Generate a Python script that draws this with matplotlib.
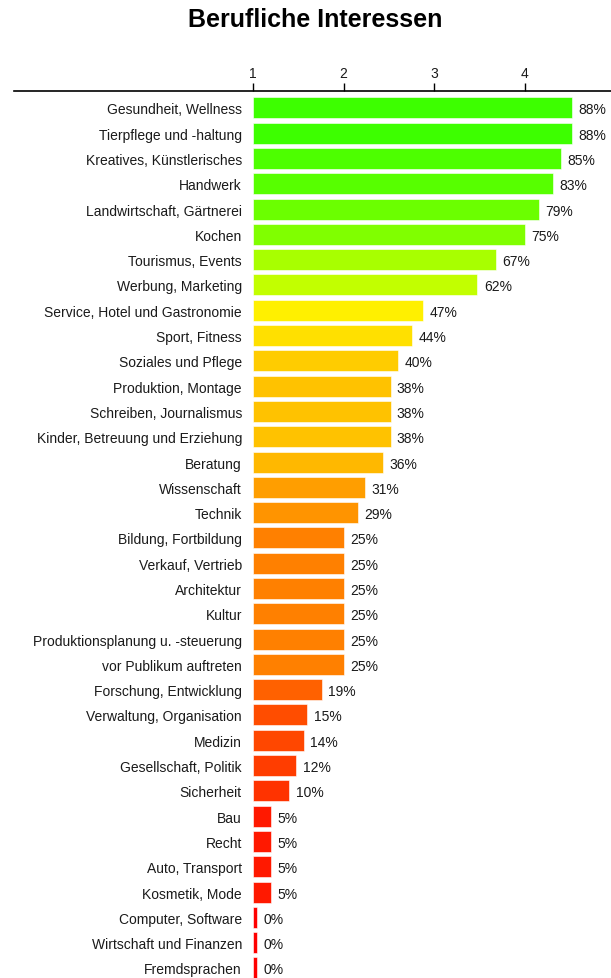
import matplotlib.pyplot as plt
import matplotlib.colors as mcolors
from matplotlib.lines import Line2D
import numpy as np

plt.rcParams['font.family'] = ['Liberation Sans', 'DejaVu Sans']

categories = [
    'Gesundheit, Wellness', 'Tierpflege und -haltung', 'Kreatives, Künstlerisches',
    'Handwerk', 'Landwirtschaft, Gärtnerei', 'Kochen', 'Tourismus, Events',
    'Werbung, Marketing', 'Service, Hotel und Gastronomie', 'Sport, Fitness',
    'Soziales und Pflege', 'Produktion, Montage', 'Schreiben, Journalismus',
    'Kinder, Betreuung und Erziehung', 'Beratung', 'Wissenschaft', 'Technik',
    'Bildung, Fortbildung', 'Verkauf, Vertrieb', 'Architektur', 'Kultur',
    'Produktionsplanung u. -steuerung', 'vor Publikum auftreten',
    'Forschung, Entwicklung', 'Verwaltung, Organisation', 'Medizin',
    'Gesellschaft, Politik', 'Sicherheit', 'Bau', 'Recht', 'Auto, Transport',
    'Kosmetik, Mode', 'Computer, Software', 'Wirtschaft und Finanzen',
    'Fremdsprachen',
]
percent = [88, 88, 85, 83, 79, 75, 67, 62, 47, 44, 40, 38, 38, 38, 36, 31, 29,
           25, 25, 25, 25, 25, 25, 19, 15, 14, 12, 10, 5, 5, 5, 5, 0, 0, 0]
x_ticks = [1, 2, 3, 4]

W, H = 611, 979
fig = plt.figure(figsize=(W / 100, H / 100), dpi=100)

# axis placement in pixels
x0_px, unit_px = 253, 90.5
top_px, bot_px = 92, 979
ax = fig.add_axes([x0_px / W, 1 - bot_px / H, 1 - x0_px / W, (bot_px - top_px) / H])

p = np.array(percent) / 100.0
scores = 1 + 4 * p
widths = np.maximum(scores - 1, 0.045)
# colour runs red -> yellow -> green with the share
colors = [mcolors.hsv_to_rgb((v * 120 / 360, 1, 1)) for v in p]
ypos = np.arange(len(categories))

ax.barh(ypos, widths, left=1, height=0.83, color=colors,
        edgecolor='white', linewidth=0.4)
for y, w, v in zip(ypos, widths, percent):
    ax.text(1 + w + 0.07, y, f'{v}%', va='center_baseline', ha='left',
            fontsize=10, color='#1a1a1a')

ax.set_xlim(1, 1 + (W - x0_px) / unit_px)
ax.set_ylim(len(categories) - 0.6, -0.67)

ax.set_yticks(ypos)
ax.set_yticklabels(categories, fontsize=10, color='#1a1a1a')
ax.tick_params(axis='y', length=0, pad=8)

ax.xaxis.tick_top()
ax.set_xticks(x_ticks)
ax.set_xticklabels([str(t) for t in x_ticks], fontsize=10, color='#1a1a1a')
ax.tick_params(axis='x', length=6, width=1, pad=2, direction='out')

for s in ['left', 'right', 'bottom', 'top']:
    ax.spines[s].set_visible(False)

fig.add_artist(Line2D([14 / W, 1], [1 - top_px / H, 1 - top_px / H],
                      color='black', linewidth=1.2))

fig.text(315 / W, 1 - 20 / H, 'Berufliche Interessen', ha='center', va='center',
         fontsize=18, fontweight='bold')

fig.savefig('out.png', dpi=100)
